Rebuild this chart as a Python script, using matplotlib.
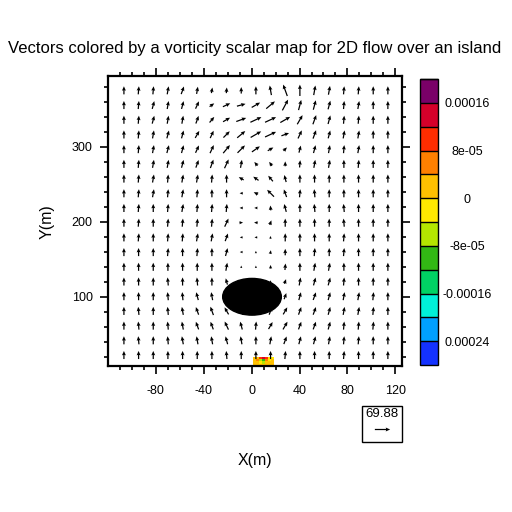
import numpy as np
import matplotlib
matplotlib.use("Agg")
import matplotlib.pyplot as plt
from matplotlib.colors import ListedColormap, BoundaryNorm
from matplotlib.patches import Ellipse, Rectangle
import matplotlib.cm as cm

plt.rcParams['font.family'] = ['Liberation Sans', 'DejaVu Sans']
plt.rcParams['axes.unicode_minus'] = False

# ---------------- data ----------------
x_grid = np.linspace(-106.7, 113.8, 19)
y_grid = np.linspace(22.3, 375.6, 19)

# arrow direction, degrees clockwise from "up" (rows bottom -> top)
angle_deg = [
    [0, 0, 0, 0, 0, 0, 0, -5, 0, 0, 0, 5, 0, 0, 0, 5, 0, 0, 0],
    [0, -5, 0, -5, -10, -10, -10, -15, -10, 0, 10, 20, 15, 15, 10, 5, 5, 0, 0],
    [0, -5, 0, -5, -10, -20, -20, -25, -15, 5, 30, 30, 20, 20, 15, 5, 5, 5, 0],
    [0, -5, 0, -5, -10, -20, -20, -30, -20, 0, 20, 30, 20, 20, 15, 10, 10, 5, 0],
    [0, 0, 0, -5, -5, -15, -10, -20, 0, 0, 0, 20, 15, 20, 15, 10, 10, 5, 0],
    [0, 0, 0, -5, 0, -5, 0, -15, 0, 0, 0, 20, 10, 15, 15, 5, 0, 0, 0],
    [0, 0, 0, 0, 0, 0, 0, 10, 0, 0, 0, 5, 0, 10, 10, 0, 0, 0, 0],
    [0, 0, 0, 5, 0, 5, 0, 15, -90, 0, 10, 0, 0, 5, 0, 5, 0, 0, 0],
    [0, 5, 0, 5, 5, 10, 10, 20, -90, -90, 10, 0, 0, 0, 0, 5, 0, 0, 0],
    [0, 5, 0, 5, 5, 5, 5, 25, 90, -90, 20, 0, 0, 0, 0, -5, 0, 0, 0],
    [0, 5, 0, 5, 10, 5, 5, 5, -90, -90, -5, -15, 0, -5, 0, -5, 0, 0, 0],
    [0, 5, 10, 5, 10, 5, 0, 0, -90, -65, -45, -20, 5, -5, 0, 0, 0, 0, 0],
    [0, 5, 10, 5, 10, 10, 5, 0, -60, -55, -40, -15, 0, 0, 0, 0, 0, 0, 0],
    [0, 5, 10, 10, 15, 20, 20, 25, 10, -40, -35, 0, 5, 10, 10, 0, 5, 0, 0],
    [0, 5, 10, 15, 15, 25, 25, 40, 45, 55, 60, 45, 15, 15, 10, 5, 10, 0, 0],
    [0, 5, 10, 15, 15, 30, 25, 45, 50, 60, 65, 70, 25, 20, 15, 10, 10, 0, 0],
    [0, 5, 15, 10, 10, 20, 40, 60, 70, 65, 65, 60, 30, 20, 15, 5, 5, 0, 0],
    [0, 5, 15, 10, 15, 25, 55, 65, 75, 60, 50, 28, 15, 15, 15, 5, 10, 0, 0],
    [0, 5, 5, 10, 20, 10, 10, 5, 0, 0, -10, -20, 0, 10, 10, 5, 5, 0, 0],
]

# arrow magnitude relative to the free stream (rows bottom -> top)
mag_rel = [
    [1, 1, 1, 1, 1, 1, 1, 1, 1, 1, 1, 1, 1, 1, 1, 1, 1, 1, 1],
    [1, 1, 1, 1, 1, 1, 1, 1, 1, 1, 1, 1, 1, 1, 1, 1, 1, 1, 1],
    [1, 1, 1, 1, 1, 1, 1, 1.1, 1, 1, 1, 1.1, 1, 1, 1, 1, 1, 1, 1],
    [1, 1, 1, 1, 1, 1, 1.1, 1, 1, 1, 1, 1, 1, 1, 1, 1, 1, 1, 1],
    [1, 1, 1, 1, 1, 1, 1, 0.8, 0.3, 0.3, 0.3, 0.8, 1, 1, 1, 1, 1, 1, 1],
    [1, 1, 1, 1, 1, 1, 1, 0.8, 0.3, 0.3, 0.3, 0.6, 1, 1, 1, 1, 1, 1, 1],
    [1, 1, 1, 1, 1, 1, 1, 1, 0.3, 0.3, 0.45, 0.8, 1, 1, 1, 1, 1, 1, 1],
    [1, 1, 1, 1, 1, 1, 1, 1, 0.35, 0.3, 0.45, 0.8, 1, 1, 1, 1, 1, 1, 1],
    [1, 1, 1, 1, 1, 1, 1, 1, 0.35, 0.35, 0.35, 1, 1, 1, 1, 1, 1, 1, 1],
    [1, 1, 1, 1, 1, 1, 1, 1.1, 0.45, 0.45, 0.6, 1, 1, 1, 1, 1, 1, 1, 1],
    [1, 1, 1, 1, 1, 1, 1, 1, 0.4, 0.4, 0.6, 1, 1, 1, 1, 1, 1, 1, 1],
    [1, 1, 1, 1, 1, 1, 1, 1, 0.4, 0.6, 1.2, 1, 1, 1, 1, 1, 1, 1, 1],
    [1, 1, 1, 1, 1, 1, 1, 1, 0.7, 0.8, 0.9, 0.9, 1, 1, 1, 1, 1, 1, 1],
    [1, 1, 1, 1, 1, 1, 1.1, 1.2, 1, 0.6, 0.6, 0.6, 0.9, 1, 1, 1, 1, 1, 1],
    [1, 1, 1, 1, 1, 1, 1.1, 1.3, 1.3, 1.2, 0.8, 0.6, 0.9, 1, 1, 1, 1, 1, 1],
    [1, 1, 1, 1, 1, 1, 1, 1.1, 1.3, 1.5, 1.5, 1, 1.1, 1.1, 1, 1, 1, 1, 1],
    [1, 1, 1, 1, 1, 1, 0.9, 1, 1.3, 1.5, 1.5, 1.4, 1.3, 1.2, 1.1, 1, 1, 1, 1],
    [1, 1, 1, 1, 1, 1, 0.7, 1, 1.1, 1.2, 1.4, 1.5, 1.3, 1.2, 1.1, 1, 1, 1, 1],
    [1, 1, 1, 1, 1, 0.9, 0.7, 0.7, 0.8, 1, 1.2, 1.5, 1.4, 1.2, 1.1, 1, 1, 1, 1],
]
free_stream_speed = 37.0
ref_speed = 69.88

# colour bar
cbar_levels = [-0.00028, -0.00024, -0.0002, -0.00016, -0.00012, -8e-05, -4e-05,
               0.0, 4e-05, 8e-05, 0.00012, 0.00016, 0.0002]
cbar_colors = ['#1432FF', '#00A0FF', '#00F0D8', '#00D264', '#32B814', '#B4E600',
               '#FFE800', '#FFC000', '#FF8000', '#FF2D00', '#D5002A', '#7A0068']
cbar_ticks = [-0.00024, -0.00016, -8e-05, 0.0, 8e-05, 0.00016]
cbar_ticklabels = ['0.00024', '-0.00016', '-8e-05', '0', '8e-05', '0.00016']

# small vorticity patch near the bottom
patch_x = [1.2, 3.7, 6.3, 8.8, 11.4, 13.9, 16.5, 19.0]
patch_y = [7.6, 10.7, 13.8, 16.9, 20.0]
patch_vort = [
    [2e-05, 2e-05, 2e-05, 2e-05, 2e-05, 2e-05, 2e-05],
    [2e-05, 2e-05, -2e-05, -6e-05, 2e-05, 2e-05, 2e-05],
    [2e-05, 6e-05, -6e-05, -0.0001, 6e-05, -2e-05, 2e-05],
    [2e-05, 2e-05, 0.0001, 0.00014, 0.0001, -2e-05, -2e-05],
]

island_center = (0.3, 100.0)
island_size = (49.0, 49.0)

# ---------------- figure ----------------
fig = plt.figure(figsize=(5.12, 5.12), dpi=100)
W = H = 512.0
ax = fig.add_axes([108 / W, 1 - 366 / H, 294 / W, 290 / H])

cmap = ListedColormap(cbar_colors)
norm = BoundaryNorm(cbar_levels, cmap.N)

X, Y = np.meshgrid(x_grid, y_grid)
th = np.deg2rad(np.array(angle_deg, dtype=float))
M = np.array(mag_rel, dtype=float) * free_stream_speed
U = M * np.sin(th)
V = M * np.cos(th)

scale = ref_speed / (15.3 / 100.0)  # data units per inch
Q = ax.quiver(X, Y, U, V, angles='uv', scale_units='inches', scale=scale,
              pivot='middle', color='black', width=0.0042,
              headwidth=3.2, headlength=3.6, headaxislength=3.2, zorder=2)

ax.pcolormesh(patch_x, patch_y, np.array(patch_vort), cmap=cmap, norm=norm, zorder=1)

ax.add_patch(Ellipse(island_center, island_size[0], island_size[1],
                     facecolor='black', edgecolor='black', zorder=3))

ax.set_xlim(-120, 125.6)
ax.set_ylim(7.6, 394.7)
ax.set_xticks([-80, -40, 0, 40, 80, 120])
ax.set_xticks(np.arange(-110, 121, 10), minor=True)
ax.set_yticks([100, 200, 300])
ax.set_yticks(np.arange(20, 391, 20), minor=True)
ax.tick_params(which='both', direction='out', top=True, right=True,
               labelsize=9, width=1.2)
ax.tick_params(which='major', length=6)
ax.tick_params(which='minor', length=3)
ax.tick_params(axis='x', which='major', pad=8)
ax.tick_params(axis='y', which='major', pad=5)
for s in ax.spines.values():
    s.set_linewidth(1.6)

fig.text(255 / W, 1 - 48 / H,
         'Vectors colored by a vorticity scalar map for 2D flow over an island',
         ha='center', va='center', fontsize=12)
fig.text(255 / W, 1 - 460 / H, 'X(m)', ha='center', va='center', fontsize=11.5)
fig.text(47 / W, 1 - 222 / H, 'Y(m)', ha='center', va='center', fontsize=11.5,
         rotation=90)

# reference vector annotation
fig.patches.append(Rectangle((362 / W, 1 - 442 / H), 40 / W, 36 / H, fill=False,
                             edgecolor='black', linewidth=1.0,
                             transform=fig.transFigure, figure=fig))
ax.quiverkey(Q, 381.7 / W, 1 - 429 / H, ref_speed, '', coordinates='figure',
             labelpos='N', color='black')
fig.text(381.7 / W, 1 - 414 / H, '%.2f' % ref_speed, ha='center', va='center',
         fontsize=9.5)

# colour bar
cax = fig.add_axes([420 / W, 1 - 365 / H, 18 / W, 286 / H])
sm = cm.ScalarMappable(norm=norm, cmap=cmap)
cb = fig.colorbar(sm, cax=cax, boundaries=cbar_levels, ticks=cbar_ticks,
                  drawedges=True)
cb.ax.minorticks_off()
cb.ax.set_yticklabels(cbar_ticklabels)
cb.ax.tick_params(which='both', length=0, width=0, labelsize=9, pad=21)
for lab in cb.ax.get_yticklabels():
    lab.set_horizontalalignment('center')
cb.outline.set_linewidth(1.0)
cb.dividers.set_linewidth(1.0)

fig.savefig('out.png', dpi=100)
